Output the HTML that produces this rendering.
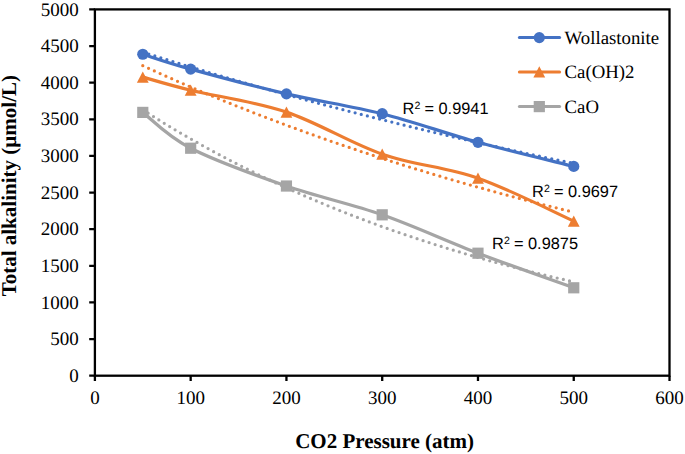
<!DOCTYPE html>
<html><head><meta charset="utf-8"><style>
html,body{margin:0;padding:0;background:#fff;}
svg{display:block;}
text{text-rendering:geometricPrecision;}
.tl{font-family:"Liberation Serif",serif;font-size:19px;fill:#000;}
.lg{font-family:"Liberation Serif",serif;font-size:18.8px;fill:#000;}
.at{font-family:"Liberation Serif",serif;font-size:21px;font-weight:bold;fill:#000;}
.r2{font-family:"Liberation Sans",sans-serif;font-size:16.35px;fill:#000;}
.sup{font-size:10px;}
</style></head><body>
<svg width="685" height="454" viewBox="0 0 685 454">
<rect x="94.90" y="9.4" width="574.60" height="366.30" fill="none" stroke="#000" stroke-width="2.3"/>
<path d="M89.2,375.70H94.90 M89.2,339.07H94.90 M89.2,302.44H94.90 M89.2,265.81H94.90 M89.2,229.18H94.90 M89.2,192.55H94.90 M89.2,155.92H94.90 M89.2,119.29H94.90 M89.2,82.66H94.90 M89.2,46.03H94.90 M89.2,9.40H94.90 M94.90,375.70V381 M190.67,375.70V381 M286.44,375.70V381 M382.21,375.70V381 M477.98,375.70V381 M573.75,375.70V381 M669.52,375.70V381" stroke="#000" stroke-width="2.3" fill="none"/>
<text x="78.8" y="381.80" text-anchor="end" class="tl">0</text>
<text x="78.8" y="345.17" text-anchor="end" class="tl">500</text>
<text x="78.8" y="308.54" text-anchor="end" class="tl">1000</text>
<text x="78.8" y="271.91" text-anchor="end" class="tl">1500</text>
<text x="78.8" y="235.28" text-anchor="end" class="tl">2000</text>
<text x="78.8" y="198.65" text-anchor="end" class="tl">2500</text>
<text x="78.8" y="162.02" text-anchor="end" class="tl">3000</text>
<text x="78.8" y="125.39" text-anchor="end" class="tl">3500</text>
<text x="78.8" y="88.76" text-anchor="end" class="tl">4000</text>
<text x="78.8" y="52.13" text-anchor="end" class="tl">4500</text>
<text x="78.8" y="15.50" text-anchor="end" class="tl">5000</text>
<text x="94.90" y="403.7" text-anchor="middle" class="tl">0</text>
<text x="190.67" y="403.7" text-anchor="middle" class="tl">100</text>
<text x="286.44" y="403.7" text-anchor="middle" class="tl">200</text>
<text x="382.21" y="403.7" text-anchor="middle" class="tl">300</text>
<text x="477.98" y="403.7" text-anchor="middle" class="tl">400</text>
<text x="573.75" y="403.7" text-anchor="middle" class="tl">500</text>
<text x="669.52" y="403.7" text-anchor="middle" class="tl">600</text>
<path d="M142.78,52.21 L147.63,53.74 L152.47,55.26 L157.31,56.78 L162.15,58.28 L167.00,59.78 L171.84,61.27 L176.68,62.76 L181.52,64.24 L186.37,65.71 L191.21,67.17 L196.05,68.63 L200.89,70.08 L205.73,71.52 L210.58,72.96 L215.42,74.39 L220.26,75.81 L225.10,77.23 L229.95,78.64 L234.79,80.04 L239.63,81.44 L244.47,82.83 L249.32,84.21 L254.16,85.59 L259.00,86.96 L263.84,88.32 L268.68,89.68 L273.53,91.03 L278.37,92.37 L283.21,93.71 L288.05,95.04 L292.90,96.37 L297.74,97.69 L302.58,99.00 L307.42,100.31 L312.27,101.61 L317.11,102.90 L321.95,104.19 L326.79,105.47 L331.63,106.75 L336.48,108.02 L341.32,109.28 L346.16,110.54 L351.00,111.80 L355.85,113.04 L360.69,114.28 L365.53,115.52 L370.37,116.75 L375.22,117.97 L380.06,119.19 L384.90,120.40 L389.74,121.60 L394.58,122.80 L399.43,124.00 L404.27,125.19 L409.11,126.37 L413.95,127.55 L418.80,128.72 L423.64,129.89 L428.48,131.05 L433.32,132.20 L438.17,133.35 L443.01,134.50 L447.85,135.64 L452.69,136.77 L457.53,137.90 L462.38,139.02 L467.22,140.14 L472.06,141.25 L476.90,142.36 L481.75,143.46 L486.59,144.56 L491.43,145.65 L496.27,146.74 L501.12,147.82 L505.96,148.89 L510.80,149.97 L515.64,151.03 L520.48,152.09 L525.33,153.15 L530.17,154.20 L535.01,155.25 L539.85,156.29 L544.70,157.32 L549.54,158.36 L554.38,159.38 L559.22,160.40 L564.07,161.42 L568.91,162.43 L573.75,163.44" fill="none" stroke="#4472C4" stroke-width="3.25" stroke-linecap="round" stroke-dasharray="0 6.31"/>
<path d="M142.78,65.71 L147.63,67.93 L152.47,70.13 L157.31,72.32 L162.15,74.49 L167.00,76.65 L171.84,78.79 L176.68,80.91 L181.52,83.02 L186.37,85.12 L191.21,87.20 L196.05,89.26 L200.89,91.31 L205.73,93.35 L210.58,95.37 L215.42,97.37 L220.26,99.37 L225.10,101.34 L229.95,103.31 L234.79,105.26 L239.63,107.19 L244.47,109.12 L249.32,111.02 L254.16,112.92 L259.00,114.80 L263.84,116.67 L268.68,118.52 L273.53,120.36 L278.37,122.19 L283.21,124.01 L288.05,125.81 L292.90,127.60 L297.74,129.37 L302.58,131.14 L307.42,132.89 L312.27,134.63 L317.11,136.35 L321.95,138.07 L326.79,139.77 L331.63,141.46 L336.48,143.13 L341.32,144.80 L346.16,146.45 L351.00,148.09 L355.85,149.72 L360.69,151.34 L365.53,152.95 L370.37,154.54 L375.22,156.13 L380.06,157.70 L384.90,159.26 L389.74,160.81 L394.58,162.35 L399.43,163.88 L404.27,165.40 L409.11,166.90 L413.95,168.40 L418.80,169.88 L423.64,171.36 L428.48,172.82 L433.32,174.27 L438.17,175.72 L443.01,177.15 L447.85,178.57 L452.69,179.98 L457.53,181.38 L462.38,182.78 L467.22,184.16 L472.06,185.53 L476.90,186.89 L481.75,188.24 L486.59,189.59 L491.43,190.92 L496.27,192.24 L501.12,193.56 L505.96,194.86 L510.80,196.16 L515.64,197.45 L520.48,198.72 L525.33,199.99 L530.17,201.25 L535.01,202.50 L539.85,203.74 L544.70,204.97 L549.54,206.20 L554.38,207.41 L559.22,208.62 L564.07,209.81 L568.91,211.00 L573.75,212.18" fill="none" stroke="#ED7D31" stroke-width="3.25" stroke-linecap="round" stroke-dasharray="0 6.345"/>
<path d="M142.78,109.82 L147.63,112.91 L152.47,115.97 L157.31,118.99 L162.15,121.98 L167.00,124.93 L171.84,127.85 L176.68,130.73 L181.52,133.58 L186.37,136.40 L191.21,139.18 L196.05,141.93 L200.89,144.65 L205.73,147.34 L210.58,150.00 L215.42,152.62 L220.26,155.22 L225.10,157.78 L229.95,160.32 L234.79,162.82 L239.63,165.30 L244.47,167.75 L249.32,170.17 L254.16,172.56 L259.00,174.92 L263.84,177.26 L268.68,179.57 L273.53,181.85 L278.37,184.10 L283.21,186.33 L288.05,188.54 L292.90,190.71 L297.74,192.87 L302.58,194.99 L307.42,197.10 L312.27,199.17 L317.11,201.23 L321.95,203.26 L326.79,205.26 L331.63,207.25 L336.48,209.21 L341.32,211.15 L346.16,213.06 L351.00,214.95 L355.85,216.82 L360.69,218.67 L365.53,220.50 L370.37,222.31 L375.22,224.09 L380.06,225.86 L384.90,227.60 L389.74,229.32 L394.58,231.03 L399.43,232.71 L404.27,234.37 L409.11,236.02 L413.95,237.64 L418.80,239.25 L423.64,240.84 L428.48,242.41 L433.32,243.96 L438.17,245.49 L443.01,247.01 L447.85,248.51 L452.69,249.99 L457.53,251.45 L462.38,252.90 L467.22,254.33 L472.06,255.74 L476.90,257.14 L481.75,258.52 L486.59,259.88 L491.43,261.23 L496.27,262.56 L501.12,263.88 L505.96,265.18 L510.80,266.47 L515.64,267.74 L520.48,268.99 L525.33,270.24 L530.17,271.47 L535.01,272.68 L539.85,273.88 L544.70,275.06 L549.54,276.24 L554.38,277.39 L559.22,278.54 L564.07,279.67 L568.91,280.79 L573.75,281.89" fill="none" stroke="#A5A5A5" stroke-width="3.25" stroke-linecap="round" stroke-dasharray="0 6.33"/>
<path d="M142.78,54.24 C150.77,56.71 166.73,62.50 190.67,69.11 C214.61,75.71 254.52,86.43 286.44,93.87 C318.36,101.30 350.29,105.65 382.21,113.72 C414.13,121.79 446.06,133.51 477.98,142.29 C509.90,151.07 557.79,162.38 573.75,166.40" fill="none" stroke="#4472C4" stroke-width="3.2" stroke-linejoin="round"/>
<circle cx="142.78" cy="54.24" r="5.60" fill="#4472C4"/>
<circle cx="190.67" cy="69.11" r="5.60" fill="#4472C4"/>
<circle cx="286.44" cy="93.87" r="5.60" fill="#4472C4"/>
<circle cx="382.21" cy="113.72" r="5.60" fill="#4472C4"/>
<circle cx="477.98" cy="142.29" r="5.60" fill="#4472C4"/>
<circle cx="573.75" cy="166.40" r="5.60" fill="#4472C4"/>
<path d="M142.78,77.09 C150.77,79.28 166.73,84.37 190.67,90.21 C214.61,96.04 254.52,101.45 286.44,112.11 C318.36,122.77 350.29,143.15 382.21,154.16 C414.13,165.18 446.06,167.03 477.98,178.19 C509.90,189.35 557.79,213.97 573.75,221.12" fill="none" stroke="#ED7D31" stroke-width="3.2" stroke-linejoin="round"/>
<path d="M142.78,71.49 L148.69,82.69 L136.88,82.69 Z" fill="#ED7D31"/>
<path d="M190.67,84.61 L196.57,95.81 L184.77,95.81 Z" fill="#ED7D31"/>
<path d="M286.44,106.51 L292.34,117.71 L280.54,117.71 Z" fill="#ED7D31"/>
<path d="M382.21,148.56 L388.11,159.76 L376.31,159.76 Z" fill="#ED7D31"/>
<path d="M477.98,172.59 L483.88,183.79 L472.08,183.79 Z" fill="#ED7D31"/>
<path d="M573.75,215.52 L579.65,226.72 L567.85,226.72 Z" fill="#ED7D31"/>
<path d="M142.78,112.40 C150.77,118.37 166.73,135.96 190.67,148.23 C214.61,160.50 254.52,174.93 286.44,186.03 C318.36,197.13 350.29,203.62 382.21,214.82 C414.13,226.02 446.06,241.05 477.98,253.21 C509.90,265.37 557.79,282.02 573.75,287.79" fill="none" stroke="#A5A5A5" stroke-width="3.2" stroke-linejoin="round"/>
<rect x="137.19" y="106.80" width="11.20" height="11.20" fill="#A5A5A5"/>
<rect x="185.07" y="142.63" width="11.20" height="11.20" fill="#A5A5A5"/>
<rect x="280.84" y="180.43" width="11.20" height="11.20" fill="#A5A5A5"/>
<rect x="376.61" y="209.22" width="11.20" height="11.20" fill="#A5A5A5"/>
<rect x="472.38" y="247.61" width="11.20" height="11.20" fill="#A5A5A5"/>
<rect x="568.15" y="282.19" width="11.20" height="11.20" fill="#A5A5A5"/>
<text x="402.6" y="113.6" class="r2">R<tspan font-size="10.6px" dy="-4.7">2</tspan><tspan dy="4.7" dx="-0.4"> = 0.9941</tspan></text>
<text x="532.1" y="196.6" class="r2">R<tspan font-size="10.6px" dy="-4.7">2</tspan><tspan dy="4.7" dx="-0.4"> = 0.9697</tspan></text>
<text x="492.1" y="248.8" class="r2">R<tspan font-size="10.6px" dy="-4.7">2</tspan><tspan dy="4.7" dx="-0.4"> = 0.9875</tspan></text>
<line x1="519.4" y1="37.6" x2="559.6" y2="37.6" stroke="#4472C4" stroke-width="3" stroke-linecap="round"/>
<circle cx="539.30" cy="37.60" r="5.60" fill="#4472C4"/>
<text x="564.6" y="43.800000000000004" class="lg">Wollastonite</text>
<line x1="519.4" y1="71.9" x2="559.6" y2="71.9" stroke="#ED7D31" stroke-width="3" stroke-linecap="round"/>
<path d="M539.30,66.30 L545.20,77.50 L533.40,77.50 Z" fill="#ED7D31"/>
<text x="564.6" y="78.10000000000001" class="lg">Ca(OH)2</text>
<line x1="519.4" y1="106.6" x2="559.6" y2="106.6" stroke="#A5A5A5" stroke-width="3" stroke-linecap="round"/>
<rect x="533.70" y="101.00" width="11.20" height="11.20" fill="#A5A5A5"/>
<text x="564.6" y="112.8" class="lg">CaO</text>
<text x="384.6" y="447.8" text-anchor="middle" class="at">CO2 Pressure (atm)</text>
<text transform="translate(16.2,185.7) rotate(-90)" text-anchor="middle" class="at">Total alkalinity (µmol/L)</text>
</svg></body></html>
